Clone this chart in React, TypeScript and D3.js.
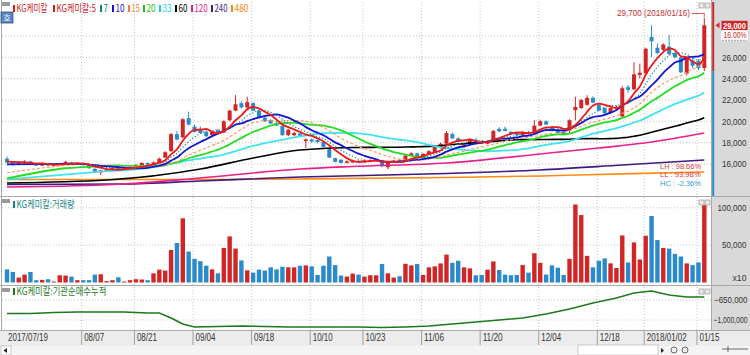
import React from 'react';
import * as d3 from 'd3';

// ---------------- data ----------------
const tickIdx = [0, 13, 22, 32, 42, 52, 61, 71, 81, 91, 101, 109, 118];
const tickLabels = ['2017/07/19', '08/07', '08/21', '09/04', '09/18', '10/10', '10/23', '11/06', '11/20', '12/04', '12/18', '2018/01/02', '01/15'];

const opens = [16500,16150,15950,16100,16250,16050,15850,16000,15850,15950,16050,16150,15950,16100,15900,15550,15200,15350,15450,15650,15450,15550,15700,15900,16100,15950,16150,16600,17200,18800,18500,20300,19500,19300,19000,18700,19150,18950,20100,21000,21700,21300,21700,21000,20350,20100,19850,19550,18700,18700,18850,18150,18300,18250,18050,17500,16550,16400,16100,16150,16300,16150,16200,16250,16350,15700,16150,16400,16250,16800,17000,16700,16900,17100,17500,17900,18800,18400,17600,17900,18300,18000,17900,18100,19300,19300,19000,18900,18700,19000,18900,19600,20000,19500,19200,19000,19150,21050,21250,21550,22200,21550,21250,20800,21250,20450,23200,23000,24350,24500,27900,26900,26700,27000,26400,26000,24500,25700,25650,25000];
const highs = [16700,16250,16200,16350,16300,16100,16050,16050,16000,16100,16300,16200,16150,16150,15950,15600,15450,15550,15700,15700,15600,15750,16000,16150,16150,16250,16600,17200,18900,19100,20300,20900,19700,19500,19100,19100,19300,20100,21100,22450,21900,22300,21800,21100,20500,20200,20000,19700,19300,19000,18950,18400,18400,18300,18100,17550,16600,16450,16350,16400,16400,16450,16450,16500,16400,16200,16400,16450,16900,17100,17050,17000,17300,17700,18000,19100,18950,18500,17900,18400,18400,18100,18200,19200,19450,19500,19100,19000,19100,19100,20100,20150,20100,19600,19300,19100,20200,22300,22100,22450,22350,21650,21300,21350,21500,23300,23400,25550,25400,26900,29000,27300,27300,28100,26600,26150,26000,26000,25800,29700];
const lows = [16050,15850,15900,16000,16000,15800,15800,15800,15800,15900,16000,15900,15900,15850,15550,15200,14950,15300,15400,15400,15400,15500,15650,15850,15900,15900,16100,16550,17150,18200,18400,19600,18950,18850,18550,18650,18850,18900,20000,20950,21200,21200,20950,20300,19950,19750,19550,18650,18600,18600,18600,17500,18000,17950,17550,16550,16150,16050,16050,16100,16100,16100,16150,16200,15700,15500,16100,16150,16200,16700,16650,16650,16850,17050,17450,17850,18350,18050,17500,17850,17950,17850,17850,18050,19000,19050,18750,18650,18650,18750,18850,19550,19650,19050,18850,18750,18850,20100,21150,21450,21700,20950,20700,20700,21100,20400,22700,22900,24000,24450,26000,26300,26500,26200,25900,24500,24300,25000,24800,24700];
const closes = [16150,15950,16100,16250,16050,15850,16000,15850,15950,16050,16200,15950,16100,15900,15600,15250,15400,15500,15650,15450,15550,15700,15900,16100,15950,16150,16500,17100,18800,18300,20200,19700,19000,18900,18600,19000,18900,20000,21000,21600,21300,21800,21000,20400,20000,19800,19600,18700,19200,18900,18650,18300,18100,18050,17600,16600,16200,16100,16250,16300,16150,16350,16350,16400,15800,16150,16300,16200,16800,17000,16700,16950,17200,17600,17900,18900,18400,18100,17800,18300,18000,17900,18100,19100,19050,19100,18800,18700,19000,18800,19600,20000,19700,19100,18900,18800,20100,21350,22000,22200,21750,21000,20750,21250,21350,23100,22950,24400,24550,26800,27500,26400,27200,26300,26000,24600,25900,25200,25000,29000];
const volumes = [17600,14100,6600,10600,14100,3100,3500,4400,1300,9700,9300,7900,3100,3100,3100,10600,11000,1800,3100,7000,1300,3100,4400,4000,3100,12300,17200,15900,43600,52900,85900,41400,31700,28600,22500,17600,12300,46300,61700,45400,29500,16300,13200,17200,15900,20300,17600,21100,20300,20300,22500,22900,21600,10100,22500,34800,23300,9300,7900,11900,10600,7900,9700,9700,24700,12300,6600,8400,25100,22900,24700,10100,20300,21600,25600,37400,26400,29100,20300,18900,9700,10100,17200,28200,16700,10600,9700,10100,23300,13200,39200,26400,10600,22900,19800,10100,31700,104400,90300,35700,20300,29100,32200,25600,19400,63000,26900,53700,30800,62600,89000,56800,46300,45400,38300,34800,25600,23300,26900,103500];

// moving-average lead-in (before a full window exists)
const ma5Lead = [[0, 16220]];
const ma7Lead = [[0, 16100]];
const ma10Lead = [[0, 15970]];
const ma15Lead = [[0, 15180], [7, 15690]];
const ma20Lead = [[0, 14650], [10, 15600], [16, 15800]];
const ma33Lead = [[0, 14550], [16, 15280], [24, 15620]];
const ma60Lead = [[0, 14220], [17, 14500], [33, 15530], [42, 16560], [50, 17310]];
// long averages
const ma120Idx = [0, 20, 33, 50, 59, 75, 91, 101, 110, 119];
const ma120Val = [13840, 14130, 14690, 15530, 15770, 16090, 16940, 17500, 18060, 18900];
const ma240Idx = [0, 20, 33, 50, 75, 91, 105, 119];
const ma240Val = [14080, 14130, 14410, 14780, 15110, 15440, 15900, 16370];
const ma480Idx = [0, 33, 50, 75, 91, 105, 119];
const ma480Val = [14550, 14550, 14600, 14740, 14880, 15070, 15250];

// institution cumulative net buying
const instIdx = [0, 4, 8, 12, 16, 20, 24, 26, 28, 30, 32, 36, 40, 44, 48, 52, 56, 60, 64, 68, 72, 76, 80, 84, 88, 92, 96, 100, 104, 107, 110, 113, 116, 119];
const instVal = [-885000, -885000, -870000, -860000, -860000, -860000, -878000, -878000, -965000, -1070000, -1122000, -1115000, -1105000, -1115000, -1122000, -1122000, -1122000, -1122000, -1130000, -1122000, -1105000, -1070000, -1035000, -1000000, -965000, -895000, -808000, -702000, -615000, -528000, -492000, -562000, -598000, -598000];

const priceTicks = [16000, 18000, 20000, 22000, 24000, 26000, 28000];
const volTicks = [50000, 100000];
const instTicks = [-650000, -1000000];
const statLabels = ['LH : 98.66%', 'LL : 93.98%', 'HC : -2.36%'];

const legendLabels = ['KG케미칼', 'KG케미칼:5', '7', '10', '15', '20', '33', '60', '120', '240', '480'];
const legendColors = ['#d01818', '#d01818', '#0a8080', '#1010d8', '#ff7a3a', '#18c018', '#10d0e8', '#000000', '#e0208a', '#4a1888', '#ff8a10'];

const RED = '#d22626';
const BLUE = '#2a8bcc';
const FONT = "'Liberation Sans', 'Noto Sans CJK KR', sans-serif";
const KFONT = "'Noto Sans CJK KR', 'Liberation Sans', sans-serif";

let measureCtx: CanvasRenderingContext2D | null = null;
function measure(s: string, font: string) {
  if (!measureCtx) measureCtx = document.createElement('canvas').getContext('2d');
  if (!measureCtx) return 0;
  measureCtx.font = font;
  return measureCtx.measureText(s).width;
}

// text squeezed horizontally to a given width (the HTS font is narrow)
function ST(props: { x: number; y: number; w: number; anchor?: string; size?: number; family?: string; fill?: string; weight?: string; text: string }) {
  const { x, y, w, anchor = 'start', size = 9, family = FONT, fill = '#333', weight = 'normal', text } = props;
  const nat = measure(text, `${weight} ${size}px ${family}`) || w;
  const sx = w / nat;
  const x0 = anchor === 'end' ? x - w : anchor === 'middle' ? x - w / 2 : x;
  return (
    <text transform={`translate(${x0},${y}) scale(${sx},1)`} fontSize={size} fontFamily={family} fill={fill} fontWeight={weight}>
      {text}
    </text>
  );
}

function numW(s: string) {
  let w = 0;
  for (const ch of s) w += ch === ',' || ch === '.' ? 2 : ch === '-' ? 2.6 : ch === '%' ? 5 : 4.5;
  return w;
}

export default function App() {
  const n = closes.length;
  const last = n - 1;
  const x = d3.scaleLinear().domain([0, n - 1]).range([7, 704.3]);
  const yP = d3.scaleLinear().domain([16000, 26000]).range([164, 57.3]);
  const yV = d3.scaleLinear().domain([0, 100000]).range([282.5, 207.8]);
  const yI = d3.scaleLinear().domain([-1000000, -650000]).range([320, 300]);
  const fmt = d3.format(',');

  const sma = (period: number, lead: number[][]) => {
    const pts: [number, number][] = lead.map((d) => [d[0], d[1]] as [number, number]);
    for (let i = period - 1; i < n; i++) pts.push([i, d3.mean(closes.slice(i - period + 1, i + 1)) as number]);
    return pts;
  };
  const zipPts = (idx: number[], val: number[]) => idx.map((d, k) => [d, val[k]] as [number, number]);

  const line = d3.line<[number, number]>().x((d) => x(d[0])).y((d) => yP(d[1])).curve(d3.curveMonotoneX);
  const instLine = d3.line<[number, number]>().x((d) => x(d[0])).y((d) => yI(d[1]));

  const mas = [
    { pts: zipPts(ma480Idx, ma480Val), c: '#ff8a10', w: 1.6 },
    { pts: zipPts(ma240Idx, ma240Val), c: '#3f1a80', w: 1.6 },
    { pts: zipPts(ma120Idx, ma120Val), c: '#e8208a', w: 1.6 },
    { pts: sma(60, ma60Lead), c: '#000000', w: 1.6 },
    { pts: sma(33, ma33Lead), c: '#3fe3f2', w: 1.8 },
    { pts: sma(20, ma20Lead), c: '#22dd22', w: 1.8 },
    { pts: sma(15, ma15Lead), c: '#ff9a66', w: 1.2, dash: '3 2' },
    { pts: sma(10, ma10Lead), c: '#1414d2', w: 1.8 },
    { pts: sma(7, ma7Lead), c: '#1a8f8f', w: 1.3, dash: '1.2 2' },
    { pts: sma(5, ma5Lead), c: '#ee1a1a', w: 1.8 },
  ];

  const gridX = tickIdx.map((i) => x(i) - 1.5);
  const legendMarkX = [13, 53, 100, 112, 128, 143, 159, 175, 191, 211, 231];
  const legendW = [31, 39.5, 4.5, 9, 8.5, 9, 9, 9, 13, 13, 14];
  const cy = yP(closes[last]);
  const statColors = ['#e03a3a', '#e03a3a', '#3399dd'];

  return (
    <svg width={750} height={355} style={{ position: 'absolute', left: 0, top: 0, background: '#fff' }}>
      <rect x={0} y={0} width={750} height={355} fill="#fff" />
      {/* right axis panel */}
      <rect x={711} y={0} width={39} height={330} fill="#d9d9d9" />
      {/* grids */}
      <g stroke="#c4c4c4" strokeWidth={1} strokeDasharray="1 2">
        {gridX.map((gx, k) => (
          <line key={'gx' + k} x1={gx} x2={gx} y1={k === 0 ? 330 : 2} y2={330} />
        ))}
        {priceTicks.map((t) => (
          <line key={'gp' + t} x1={2} x2={711} y1={yP(t)} y2={yP(t)} />
        ))}
        {volTicks.map((t) => (
          <line key={'gv' + t} x1={2} x2={711} y1={yV(t)} y2={yV(t)} />
        ))}
        {instTicks.map((t) => (
          <line key={'gi' + t} x1={2} x2={711} y1={yI(t)} y2={yI(t)} />
        ))}
      </g>
      {/* panel borders */}
      <g stroke="#a8a8a8" strokeWidth={1}>
        <line x1={1.5} x2={1.5} y1={0} y2={330} />
        <line x1={711.5} x2={711.5} y1={0} y2={330} />
        <line x1={0} x2={750} y1={196.5} y2={196.5} />
        <line x1={0} x2={750} y1={285.5} y2={285.5} />
        <line x1={0} x2={750} y1={330.5} y2={330.5} />
      </g>

      {/* candles */}
      {closes.map((c, i) => {
        const o = opens[i];
        const col = c >= o ? RED : BLUE;
        const top = yP(Math.max(o, c));
        const h = Math.max(1, Math.abs(yP(o) - yP(c)));
        return (
          <g key={'c' + i}>
            <line x1={x(i)} x2={x(i)} y1={yP(highs[i])} y2={yP(lows[i])} stroke={col} strokeWidth={1} />
            <rect x={x(i) - 2} y={top} width={4} height={h} fill={col} />
          </g>
        );
      })}

      {/* moving averages */}
      {mas.map((m, k) => (
        <path key={'ma' + k} d={line(m.pts) || ''} fill="none" stroke={m.c} strokeWidth={m.w} strokeDasharray={m.dash} />
      ))}

      {/* volume */}
      {volumes.map((v, i) => (
        <rect key={'v' + i} x={x(i) - 2.2} y={yV(v)} width={4.4} height={yV(0) - yV(v)} fill={closes[i] >= opens[i] ? RED : BLUE} />
      ))}

      {/* institution cumulative */}
      <path d={instLine(zipPts(instIdx, instVal)) || ''} fill="none" stroke="#1b7a1b" strokeWidth={1.5} />

      {/* header legend */}
      <rect x={2} y={2} width={8} height={4} fill="#9a9a9a" />
      <rect x={1} y={12} width={12} height={11} fill="#5a86c0" stroke="#2d4f80" strokeWidth={0.8} />
      <ST x={7} y={21} w={7} anchor="middle" size={8} family={KFONT} fill="#fff" text="호" />
      {legendLabels.map((s, k) => (
        <g key={'lg' + k}>
          <rect x={legendMarkX[k]} y={5} width={2} height={7} fill={legendColors[k]} />
          <ST x={legendMarkX[k] + 3.5} y={11.5} w={legendW[k]} size={10} family={KFONT} fill={legendColors[k]} text={s} />
        </g>
      ))}
      {/* small window icons */}
      {[2, 199, 288].map((yy) => (
        <g key={'ic' + yy} fill="#e8e8e8" stroke="#9a9a9a" strokeWidth={0.7}>
          <rect x={699} y={yy + 1} width={5} height={5} />
          <rect x={705} y={yy + 1} width={5} height={5} />
        </g>
      ))}
      <rect x={2} y={199} width={8} height={4} fill="#9a9a9a" />
      <rect x={2} y={288} width={8} height={4} fill="#9a9a9a" />

      {/* panel headers */}
      <rect x={13} y={201} width={2} height={7} fill="#138585" />
      <ST x={16.5} y={207.5} w={58} size={10} family={KFONT} fill="#138585" text="KG케미칼:거래량" />
      <rect x={13} y={288} width={2} height={7} fill="#1b7a1b" />
      <ST x={16.5} y={294.5} w={90} size={10} family={KFONT} fill="#1b7a1b" text="KG케미칼:기관순매수누적" />

      {/* price axis labels (a label under the current-price box is hidden, as in the HTS) */}
      {priceTicks
        .filter((t) => Math.abs(yP(t) - cy) > 14)
        .map((t) => (
          <ST key={'pt' + t} x={746.5} y={yP(t) + 3.3} w={numW(fmt(t))} anchor="end" text={fmt(t)} />
        ))}
      {volTicks.map((t) => (
        <ST key={'vt' + t} x={746.5} y={yV(t) + 3.3} w={numW(fmt(t))} anchor="end" text={fmt(t)} />
      ))}
      <ST x={746.5} y={281} w={14} anchor="end" text="x10" />
      {instTicks.map((t) => (
        <ST key={'it' + t} x={747.5} y={yI(t) + 3.3} w={Math.min(34, numW(fmt(t)))} anchor="end" text={fmt(t)} />
      ))}

      {/* current price marker */}
      <line x1={713.2} x2={713.2} y1={2} y2={yP(lows[last])} stroke={RED} strokeWidth={2} />
      <line x1={713.2} x2={713.2} y1={yP(lows[last])} y2={196} stroke={BLUE} strokeWidth={2} />
      <path d={`M715.5,${cy} L719.5,${cy - 3} L719.5,${cy + 3} Z`} fill={RED} />
      <rect x={721.5} y={cy - 4.5} width={26} height={9.5} fill={RED} />
      <ST x={734.5} y={cy + 3.3} w={23} anchor="middle" weight="bold" fill="#fff" text={fmt(closes[last])} />
      <rect x={721} y={cy + 5} width={27} height={10.5} fill="#fff" />
      <ST x={746.5} y={cy + 12.3} w={23} anchor="end" fill={RED} text={d3.format('.2f')((closes[last] / closes[last - 1] - 1) * 100) + '%'} />
      <line x1={722} x2={747} y1={cy + 15} y2={cy + 15} stroke="#888" strokeWidth={0.8} strokeDasharray="2 1" />

      {/* max annotation */}
      <ST x={690} y={16} w={73} anchor="end" fill="#c83030" text={`${fmt(highs[last])} (2018/01/16)`} />
      <path d={`M692,13.5 L${x(last)},13.5 L${x(last)},${yP(highs[last]) - 1}`} fill="none" stroke="#c83030" strokeWidth={0.8} />

      {/* LH / LL / HC */}
      {statLabels.map((s, k) => (
        <ST key={'st' + k} x={660} y={168.5 + k * 8.5} w={41} size={7.2} fill={statColors[k]} text={s} />
      ))}

      {/* date axis strip */}
      <rect x={0} y={331} width={750} height={15} fill="#ececec" />
      {gridX.map((gx, k) => (
        <g key={'dl' + k}>
          {k > 0 && <line x1={gx} x2={gx} y1={331} y2={345} stroke="#a0a0a0" strokeWidth={1} />}
          <ST x={gx + 2.5} y={340.5} w={tickLabels[k].length * 4} size={10} text={tickLabels[k]} />
        </g>
      ))}
      {/* bottom scroll bar */}
      <rect x={0} y={346} width={750} height={9} fill="#f4f4f4" />
      <rect x={1} y={346} width={10} height={9} fill="#fff" stroke="#aaa" strokeWidth={0.6} />
      <path d="M3.5,350.5 L7,348 L7,353 Z" fill="#222" />
      <rect x={578} y={345} width={80} height={10} fill="#fff" stroke="#aaa" strokeWidth={0.6} />
      <path d="M661,348 L664,350.5 L661,353 Z" fill="#222" />
      <circle cx={674} cy={350} r={3} fill="none" stroke="#444" strokeWidth={0.8} />
      <circle cx={685} cy={350} r={3} fill="none" stroke="#444" strokeWidth={0.8} />
      <line x1={722} x2={748} y1={349} y2={349} stroke="#444" strokeWidth={0.8} />
      <line x1={728} x2={728} y1={346} y2={352} stroke="#444" strokeWidth={0.8} />
    </svg>
  );
}
